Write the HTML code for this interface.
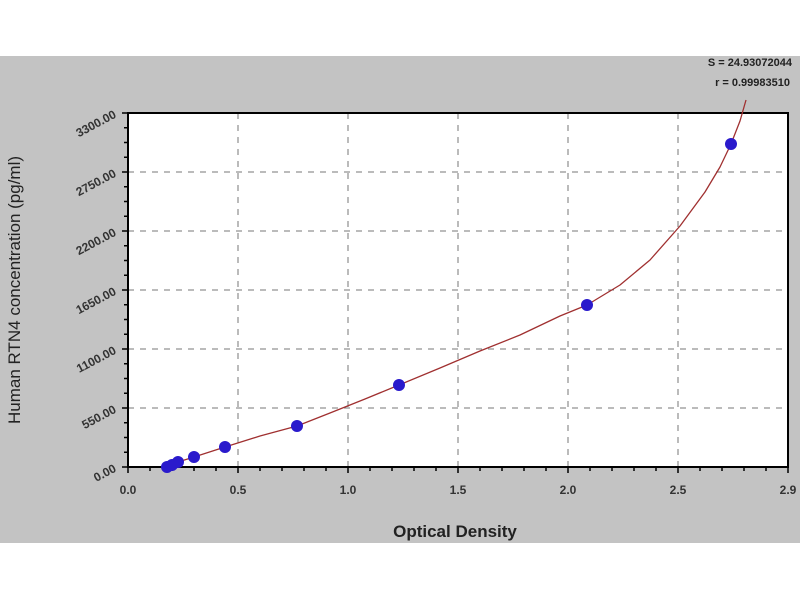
<!DOCTYPE html>
<html><head><style>body{margin:0;background:#fff}svg{display:block}</style></head><body>
<svg width="800" height="600" xmlns="http://www.w3.org/2000/svg" font-family="Liberation Sans, Arial, sans-serif">
<rect x="0" y="0" width="800" height="600" fill="#fff"/>
<rect x="0" y="56" width="800" height="487" fill="#c3c3c3"/>
<rect x="128" y="113" width="660" height="354" fill="#fff"/>
<g stroke="#777" stroke-width="1" stroke-dasharray="6,6">
<line x1="238" y1="113" x2="238" y2="467"/><line x1="348" y1="113" x2="348" y2="467"/>
<line x1="458" y1="113" x2="458" y2="467"/><line x1="568" y1="113" x2="568" y2="467"/>
<line x1="678" y1="113" x2="678" y2="467"/>
<line x1="128" y1="172" x2="788" y2="172"/><line x1="128" y1="231" x2="788" y2="231"/>
<line x1="128" y1="290" x2="788" y2="290"/><line x1="128" y1="349" x2="788" y2="349"/>
<line x1="128" y1="408" x2="788" y2="408"/>
</g>
<rect x="128" y="113" width="660" height="354" fill="none" stroke="#000" stroke-width="2"/>
<g stroke="#000" stroke-width="1.5">
<path d="M128 467h-6M128 452.25h-4M128 437.5h-4M128 422.75h-4M128 408h-6M128 393.25h-4M128 378.5h-4M128 363.75h-4M128 349h-6M128 334.25h-4M128 319.5h-4M128 304.75h-4M128 290h-6M128 275.25h-4M128 260.5h-4M128 245.75h-4M128 231h-6M128 216.25h-4M128 201.5h-4M128 186.75h-4M128 172h-6M128 157.25h-4M128 142.5h-4M128 127.75h-4M128 113h-6"/>
<path d="M128 467v6M150 467v4M172 467v4M194 467v4M216 467v4M238 467v6M260 467v4M282 467v4M304 467v4M326 467v4M348 467v6M370 467v4M392 467v4M414 467v4M436 467v4M458 467v6M480 467v4M502 467v4M524 467v4M546 467v4M568 467v6M590 467v4M612 467v4M634 467v4M656 467v4M678 467v6M700 467v4M722 467v4M744 467v4M766 467v4M788 467v6"/>
</g>
<g font-size="12" font-weight="bold" fill="#333" text-anchor="middle">
<text x="128" y="494">0.0</text><text x="238" y="494">0.5</text><text x="348" y="494">1.0</text>
<text x="458" y="494">1.5</text><text x="568" y="494">2.0</text><text x="678" y="494">2.5</text><text x="788" y="494">2.9</text>
</g>
<g font-size="12" font-weight="bold" fill="#333" text-anchor="end">
<text transform="translate(117,471) rotate(-28)">0.00</text>
<text transform="translate(117,412) rotate(-28)">550.00</text>
<text transform="translate(117,353) rotate(-28)">1100.00</text>
<text transform="translate(117,294) rotate(-28)">1650.00</text>
<text transform="translate(117,235) rotate(-28)">2200.00</text>
<text transform="translate(117,176) rotate(-28)">2750.00</text>
<text transform="translate(117,117) rotate(-28)">3300.00</text>
</g>
<text x="455" y="537" font-size="17" font-weight="bold" fill="#222" text-anchor="middle">Optical Density</text>
<text transform="translate(20,290) rotate(-90)" font-size="17" fill="#222" text-anchor="middle">Human RTN4 concentration (pg/ml)</text>
<g font-size="11" font-weight="bold" fill="#222" text-anchor="end">
<text x="792" y="66">S = 24.93072044</text>
<text x="790" y="86">r = 0.99983510</text>
</g>
<path d="M163 468 L167 467 L178 462 L194 457 L225 447 L260 436 L297 426 L330 413 L365 399 L399 385 L440 368 L480 351 L520 335 L560 316 L587 305 L620 285 L650 260 L680 226 L705 192 L720 167 L731 144 L740 121 L746 100" fill="none" stroke="#a03030" stroke-width="1.3" stroke-linejoin="round"/>
<g fill="#2a1acc">
<circle cx="167" cy="467" r="6"/><circle cx="172" cy="465" r="6"/><circle cx="178" cy="462" r="6"/>
<circle cx="194" cy="457" r="6"/><circle cx="225" cy="447" r="6"/><circle cx="297" cy="426" r="6"/>
<circle cx="399" cy="385" r="6"/><circle cx="587" cy="305" r="6"/><circle cx="731" cy="144" r="6"/>
</g>
</svg>
</body></html>
